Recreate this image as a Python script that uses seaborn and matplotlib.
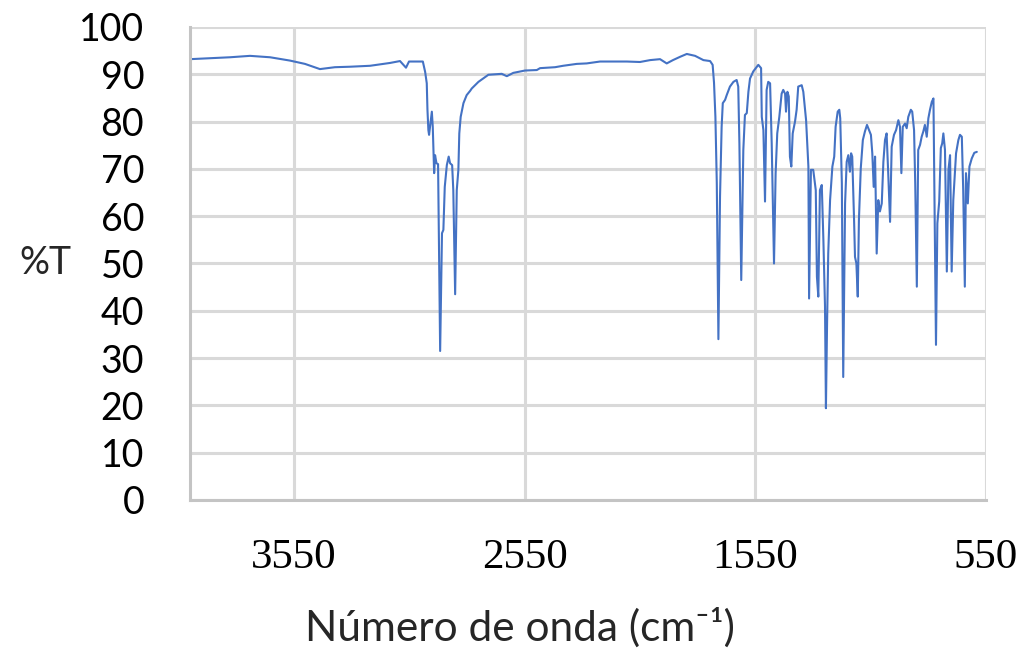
import numpy as np
import pandas as pd
import seaborn as sns
import matplotlib
matplotlib.use("Agg")
import matplotlib.pyplot as plt

# IR spectrum: wavenumber (cm-1) and %T
wavenumber = [4000, 3913, 3827, 3740, 3653, 3567, 3502, 3437, 3372, 3307, 3220, 3133, 3090, 3064, 3051,
              2991, 2981, 2974, 2971, 2967, 2964, 2952, 2948, 2942, 2938, 2932, 2925, 2916, 2908, 2902,
              2896, 2887, 2879, 2873, 2864, 2859, 2851, 2844, 2837, 2833, 2827, 2815, 2801, 2786, 2779,
              2750, 2707, 2649, 2627, 2599, 2548, 2497, 2483, 2418, 2383, 2324, 2281, 2223, 2107, 2050,
              2006, 1963, 1934, 1907, 1876, 1847, 1811, 1775, 1746, 1735, 1729, 1723, 1717, 1710, 1703,
              1696, 1691, 1681, 1674, 1660, 1645, 1631, 1624, 1619, 1611, 1602, 1595, 1587, 1580, 1573,
              1559, 1537, 1525, 1522, 1515, 1508, 1501, 1494, 1486, 1479, 1469, 1462, 1455, 1446, 1436,
              1429, 1421, 1417, 1411, 1405, 1400, 1394, 1388, 1378, 1371, 1364, 1349, 1342, 1330, 1320,
              1317, 1309, 1299, 1288, 1283, 1277, 1270, 1262, 1255, 1248, 1244, 1239, 1234, 1226, 1216,
              1208, 1202, 1193, 1186, 1182, 1175, 1169, 1161, 1154, 1147, 1140, 1135, 1130, 1122, 1118,
              1112, 1106, 1101, 1093, 1084, 1075, 1066, 1057, 1049, 1043, 1037, 1031, 1024, 1017, 1010,
              1002, 995, 988, 981, 974, 966, 959, 949, 940, 930, 923, 917, 911, 901, 894,
              887, 876, 870, 862, 857, 850, 844, 836, 829, 822, 815, 807, 800, 793, 785,
              778, 774, 767, 761, 753, 746, 740, 735, 728, 720, 713, 706, 699, 692, 680,
              670, 663, 655, 649, 642, 637, 629, 622, 612, 601, 590]
transmittance = [93.2, 93.4, 93.6, 93.9, 93.6, 92.9, 92.2, 91.1, 91.5, 91.6, 91.8, 92.4, 92.8, 91.4, 92.7,
                 92.7, 90.5, 88.1, 82.5, 78.2, 77.2, 82.1, 78.9, 69.1, 72.9, 71.2, 71.0, 31.5, 56.4, 57.1,
                 66.2, 70.8, 72.6, 71.2, 70.8, 65.5, 43.5, 65.5, 69.8, 77.5, 81.0, 83.9, 85.6, 86.5, 87.0,
                 88.4, 89.9, 90.1, 89.6, 90.3, 90.8, 90.9, 91.3, 91.5, 91.8, 92.2, 92.3, 92.7, 92.7, 92.6,
                 93.0, 93.2, 92.3, 93.0, 93.7, 94.3, 93.9, 93.0, 92.8, 92.0, 88.2, 81.0, 67.0, 34.0, 64.1,
                 78.9, 83.9, 84.6, 85.6, 87.4, 88.4, 88.8, 87.4, 75.4, 46.5, 74.0, 81.4, 81.8, 86.3, 89.1,
                 90.6, 92.0, 91.3, 81.0, 78.2, 63.1, 86.7, 88.4, 88.1, 75.4, 50.0, 69.1, 77.5, 81.0, 85.9,
                 86.7, 85.9, 82.1, 86.3, 85.3, 72.6, 70.5, 77.5, 80.0, 82.5, 87.4, 87.7, 86.3, 80.3, 70.5,
                 42.6, 69.8, 69.8, 65.5, 47.2, 43.0, 65.5, 66.6, 55.0, 40.9, 19.4, 37.4, 52.1, 63.4, 70.5,
                 72.6, 78.9, 82.1, 82.5, 80.7, 67.0, 26.0, 62.7, 71.5, 72.9, 69.4, 73.3, 72.6, 59.2, 51.4,
                 50.0, 43.0, 59.2, 70.1, 76.1, 77.9, 79.3, 78.2, 77.2, 73.3, 66.2, 72.6, 52.1, 63.4, 61.0,
                 62.7, 71.5, 76.1, 77.5, 69.1, 58.8, 74.7, 77.2, 78.2, 80.3, 78.9, 69.1, 78.9, 79.6, 78.6,
                 81.0, 82.5, 82.1, 78.2, 67.0, 45.1, 74.0, 75.1, 76.8, 77.9, 79.3, 76.8, 80.7, 82.5, 84.2,
                 84.9, 65.5, 32.8, 58.5, 63.1, 74.4, 75.4, 77.5, 74.0, 48.3, 69.8, 72.9, 48.3, 63.4, 73.3,
                 76.1, 77.2, 76.8, 65.5, 45.1, 69.1, 62.7, 70.5, 72.2, 73.4, 73.6]

x_ticks = [3550, 2550, 1550, 550]
y_ticks = list(range(0, 101, 10))

df = pd.DataFrame({"wn": wavenumber, "T": transmittance})

sns.set_style("white")
plt.rcParams['font.family'] = ['Lato', 'DejaVu Sans']

fig = plt.figure(figsize=(10.25, 6.49), dpi=100)
ax = fig.add_axes([0.1854, 0.2296, 0.7766, 0.7288])

sns.lineplot(data=df, x="wn", y="T", sort=False, estimator=None,
             color="#4472C4", linewidth=1.5, ax=ax)

ax.set_xlim(4000, 550)
ax.set_ylim(0, 100)
ax.set_xticks(x_ticks)
ax.set_yticks(y_ticks)
ax.set_xticklabels([str(v) for v in x_ticks], fontfamily="Liberation Serif", fontsize=31)
ax.set_yticklabels([str(v) for v in y_ticks], fontsize=27)
ax.tick_params(axis="both", length=0, colors="#000000")
ax.tick_params(axis="x", pad=28)
ax.tick_params(axis="y", pad=33)

ax.grid(True, color="#d9d9d9", linewidth=2.2)
ax.set_axisbelow(True)
for side in ["top", "right"]:
    ax.spines[side].set_visible(False)
for side in ["left", "bottom"]:
    ax.spines[side].set_color("#c4c4c4")
    ax.spines[side].set_linewidth(2.2)

ax.set_xlabel("Número de onda (cm\u207b\u00b9)", fontsize=30.5)
ax.xaxis.set_label_coords(0.415, -0.228)
ax.set_ylabel("%T", fontsize=27, rotation=0, va="center", ha="center")
ax.yaxis.set_label_coords(-0.182, 0.5)

fig.savefig("out.png", dpi=100)
